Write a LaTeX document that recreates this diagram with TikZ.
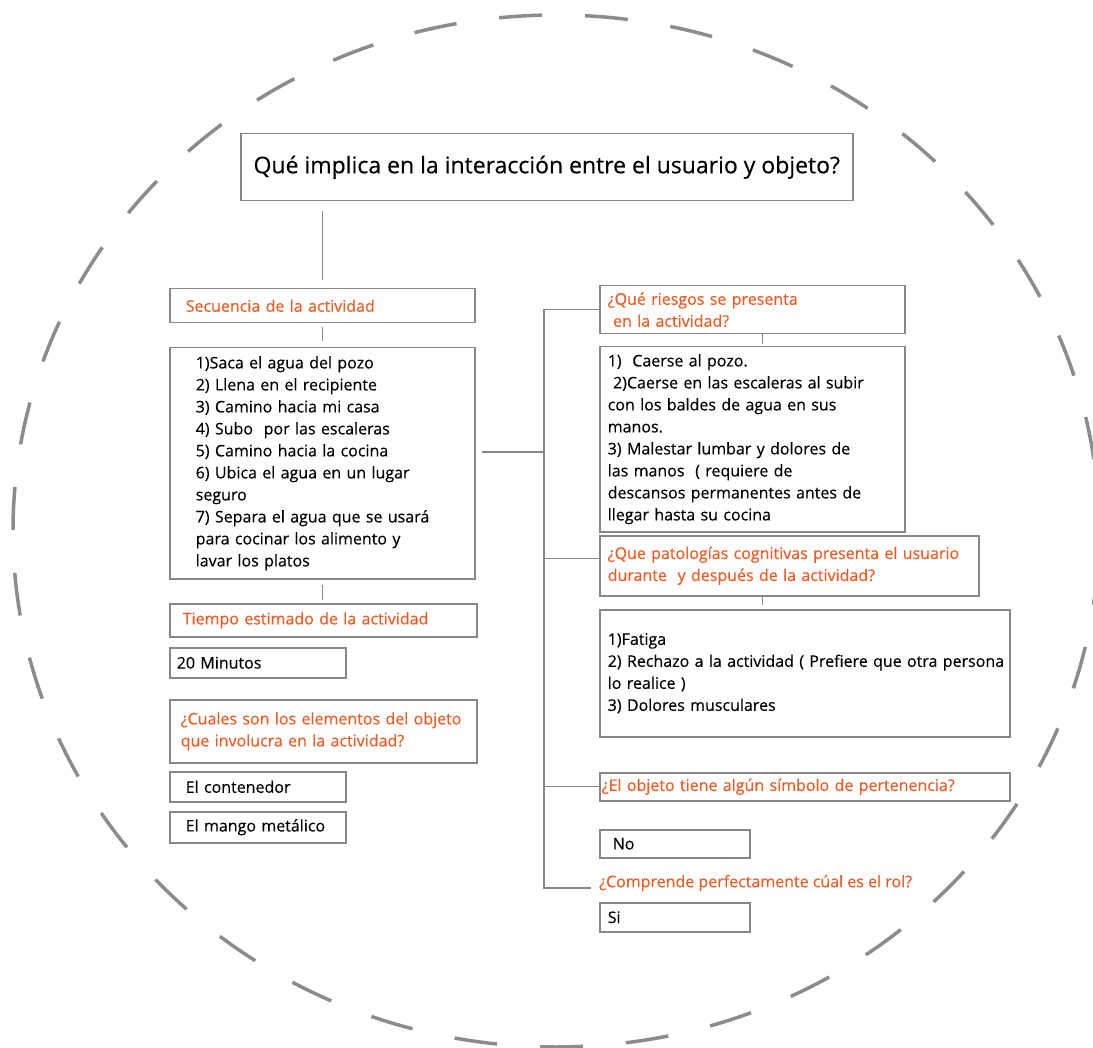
\documentclass[tikz,border=0pt]{standalone}
\usepackage{fontspec}
\setmainfont{Open Sans}[FakeBold=0.3]
\usetikzlibrary{positioning}
\definecolor{boxgray}{RGB}{135,135,135}
\definecolor{ringgray}{RGB}{140,140,140}
\definecolor{qorange}{RGB}{240,90,35}

\begin{document}
\begin{tikzpicture}[x=1pt, y=-1pt,
  box/.style={draw=boxgray, line width=1.5pt, anchor=north west, align=left,
    inner ysep=0pt, font=\fontsize{16}{22}\selectfont},
  ask/.style={box, text=qorange},
  link/.style={draw=boxgray, line width=1.3pt}]
\useasboundingbox (0,0) rectangle (1093,1048);

% dashed ring round everything
\draw[ringgray, line width=3.5pt, dash pattern=on 43pt off 43pt, dash phase=55pt] (556,531) ellipse [x radius=543, y radius=516];

\node[box, align=center, font=\fontsize{23}{27}\selectfont, minimum width=612pt, minimum height=67pt] (title) at (240,133) {Qué implica en la interacción entre el usuario y objeto?};

% left column
\node[ask, text width=273pt, inner xsep=16pt, minimum height=34pt] (seqhead) at (169,288) {Secuencia de la actividad};
\node[box, text width=253pt, inner xsep=26pt, minimum height=231pt] (seqlist) at (169,347) {1)Saca el agua del pozo\\
2) Llena en el recipiente\\
3) Camino hacia mi casa\\
4) Subo~ por las escaleras\\
5) Camino hacia la cocina\\
6) Ubica el agua en un lugar\\
seguro\\
7) Separa el agua que se usará\\
para cocinar los alimento y\\
lavar los platos};
\node[ask, text width=281pt, inner xsep=13pt, minimum height=33pt] (timehead) at (169,603) {Tiempo estimado de la actividad};
\node[box, text width=162pt, inner xsep=7pt, minimum height=30pt] (timeval) at (169,647) {20 Minutos};
\node[ask, text width=285pt, inner xsep=11pt, minimum height=63pt] (elemhead) at (169,699) {\mbox{¿Cuales son los elementos del objeto}\\que involucra en la actividad?};
\node[box, text width=144pt, inner xsep=16pt, minimum height=30pt] (elem1) at (169,771) {El contenedor};
\node[box, text width=144pt, inner xsep=16pt, minimum height=31pt] (elem2) at (169,811) {El mango metálico};

% right column
\node[ask, text width=289pt, inner xsep=8pt, minimum height=48pt] (riskhead) at (599,285) {¿Qué riesgos se presenta\\~en la actividad?};
\node[box, text width=289pt, inner xsep=8pt, minimum height=185pt] (risklist) at (599,346) {1)~ Caerse al pozo.\\
\mbox{~2)Caerse en las escaleras al subir}\\
con los baldes de agua en sus\\
manos.\\
3) Malestar lumbar y dolores de\\
las manos~ ( requiere de\\
\mbox{descansos permanentes antes de}\\
llegar hasta su cocina};
\node[ask, text width=363pt, inner xsep=8pt, minimum height=60pt] (pathead) at (599,535) {\mbox{¿Que patologías cognitivas presenta el usuario}\\durante~ y después de la actividad?};
\node[box, text width=394pt, inner xsep=8pt, minimum height=127pt] (patlist) at (599,609) {1)Fatiga\\
\mbox{2) Rechazo a la actividad ( Prefiere que otra persona}\\
lo realice )\\
3) Dolores musculares};
\node[ask, text width=406pt, inner xsep=2pt, minimum height=28pt] (symhead) at (599,772) {\mbox{¿El objeto tiene algún símbolo de pertenencia?}};
\node[box, text width=124pt, inner xsep=13pt, minimum height=28pt] (symval) at (599,829) {No};
\node[anchor=west, inner sep=0pt, text=qorange, font=\fontsize{16}{22}\selectfont] (rolehead) at (599,883) {¿Comprende perfectamente cúal es el rol?};
\node[box, text width=134pt, inner xsep=8pt, minimum height=29pt] (roleval) at (599,902) {Si};

% connectors
\draw[link] (title.south -| seqhead.north) ++(0,10) -- ([yshift=8pt]seqhead.north);
\draw[link] ([yshift=-4pt]seqhead.south) -- ++(0,14);
\draw[link] ([yshift=-5pt]seqlist.south) -- ++(0,15);
\draw[link] ([xshift=10.5pt]riskhead.south) -- ++(0,10);
\draw[link] ([xshift=-26.5pt]pathead.south) -- ++(0,8);

\coordinate (spine) at (544,452);
\draw[link] (spine) -- ++(-62,0);
\draw[link] (riskhead.west) -| (spine) |- ([xshift=-8pt,yshift=-5pt]rolehead.west);
\draw[link] ([yshift=7pt]pathead.west) -- ++(-55,0);
\draw[link] (symhead.west) -- ++(-55,0);
\end{tikzpicture}
\end{document}
